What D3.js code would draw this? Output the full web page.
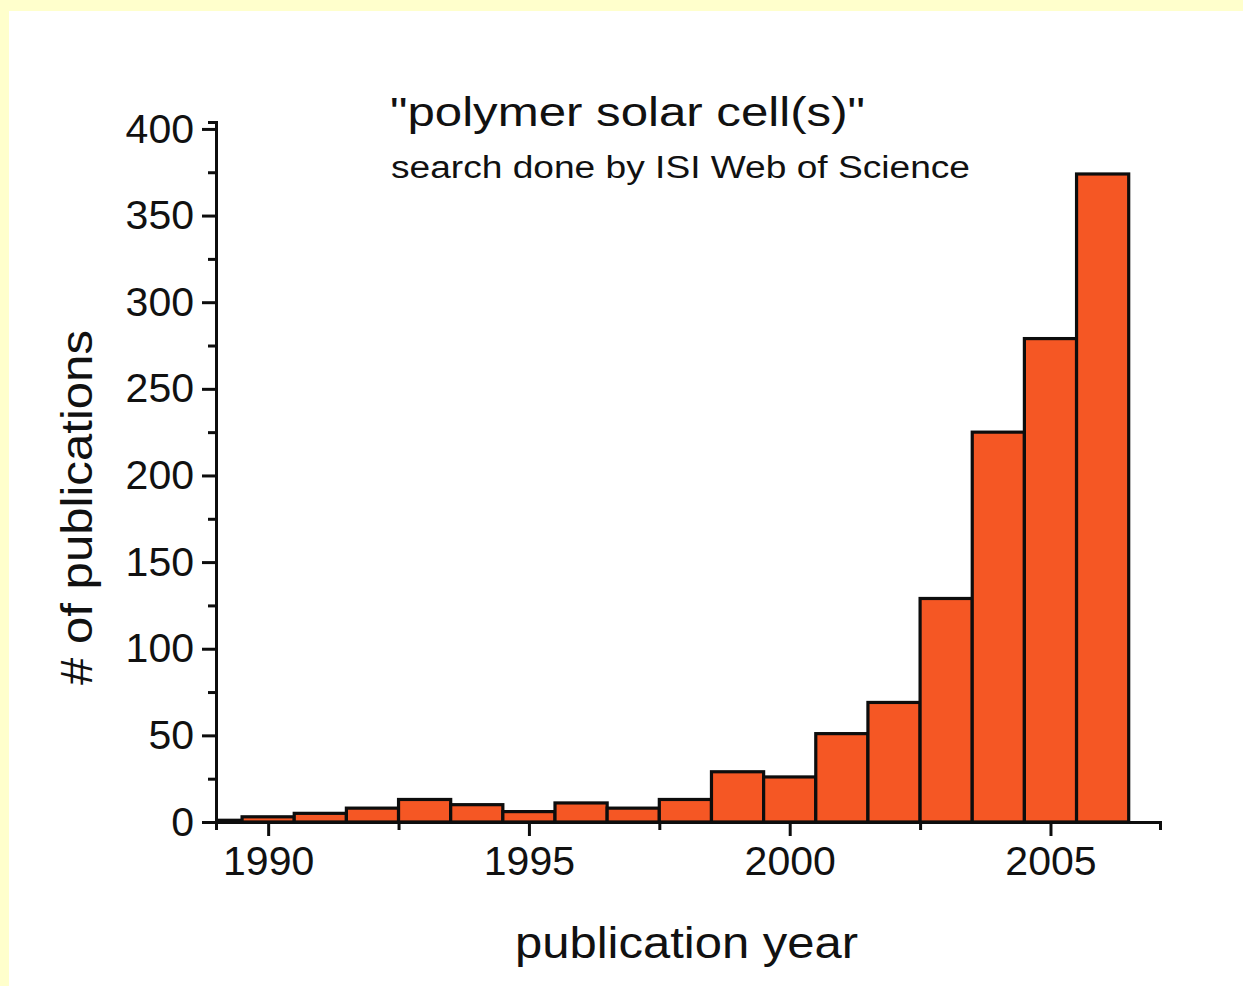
<!DOCTYPE html>
<html>
<head>
<meta charset="utf-8">
<script src="https://cdn.jsdelivr.net/npm/d3@7"></script>
<style>
  html, body { margin: 0; padding: 0; background: #ffffcc; }
  #chart { width: 1243px; height: 986px; }
  text { font-family: "Liberation Sans", Arial, sans-serif; fill: #111; }
</style>
</head>
<body>
<div id="chart"></div>
<script>
// publications per year, "polymer solar cell(s)" (ISI Web of Science)
const years  = [1989, 1990, 1991, 1992, 1993, 1994, 1995, 1996, 1997, 1998, 1999, 2000, 2001, 2002, 2003, 2004, 2005, 2006];
const counts = [1, 3, 5, 8, 13, 10, 6, 11, 8, 13, 29, 26, 51, 69, 129, 225, 279, 374];
const xTicks = [1990, 1995, 2000, 2005];
const xMinor = [1992.5, 1997.5, 2002.5];
const yTicks = [0, 50, 100, 150, 200, 250, 300, 350, 400];
const yMinor = [25, 75, 125, 175, 225, 275, 325, 375];

const W = 1243, H = 986;
const data = years.map((y, i) => ({ year: y, n: counts[i] }));

const svg = d3.select("#chart").append("svg")
  .attr("width", W).attr("height", H);

// white panel over the yellow page
svg.append("rect").attr("x", 9).attr("y", 11)
  .attr("width", W - 9).attr("height", H - 11).attr("fill", "#fff");

const x = d3.scaleLinear().domain([1989, 2007.1]).range([216, 1160]);
const y = d3.scaleLinear().domain([0, 404]).range([822, 122]);

svg.append("clipPath").attr("id", "plot")
  .append("rect").attr("x", x(1989)).attr("y", 0)
  .attr("width", x(2007.1) - x(1989)).attr("height", H);

// bars
svg.append("g").attr("clip-path", "url(#plot)")
  .selectAll("rect").data(data).join("rect")
  .attr("x", d => x(d.year - 0.5))
  .attr("y", d => y(d.n))
  .attr("width", d => x(d.year + 0.5) - x(d.year - 0.5))
  .attr("height", d => y(0) - y(d.n))
  .attr("fill", "#f55724")
  .attr("stroke", "#0d0d0d")
  .attr("stroke-width", 3.2);

// axes
const styleAxis = g => {
  g.select(".domain").attr("stroke", "#0d0d0d").attr("stroke-width", 3);
  g.selectAll(".tick line").attr("stroke", "#0d0d0d").attr("stroke-width", 3);
  g.selectAll(".tick text").attr("font-family", "Liberation Sans, Arial, sans-serif")
    .attr("font-size", 41).attr("fill", "#111");
};

// minor ticks first
svg.append("g").attr("transform", `translate(0,${y(0)})`)
  .call(d3.axisBottom(x).tickValues(xMinor).tickSize(8).tickFormat(""))
  .call(styleAxis);
svg.append("g").attr("transform", `translate(${x(1989)},0)`)
  .call(d3.axisLeft(y).tickValues(yMinor).tickSize(8).tickFormat(""))
  .call(styleAxis);

svg.append("g").attr("transform", `translate(0,${y(0)})`)
  .call(d3.axisBottom(x).tickValues(xTicks).tickSize(14).tickSizeOuter(0)
    .tickPadding(10).tickFormat(d3.format("d")))
  .call(styleAxis);
svg.append("g").attr("transform", `translate(${x(1989)},0)`)
  .call(d3.axisLeft(y).tickValues(yTicks).tickSize(14).tickSizeOuter(0)
    .tickPadding(8).tickFormat(d3.format("d")))
  .call(styleAxis);

// titles (glyphs stretched a little, the original font is wider)
const wide = "spacingAndGlyphs";
svg.append("text").attr("x", 390).attr("y", 126)
  .attr("font-size", 41).attr("textLength", 475).attr("lengthAdjust", wide)
  .text("\"polymer solar cell(s)\"");
svg.append("text").attr("x", 391).attr("y", 178)
  .attr("font-size", 31).attr("textLength", 579).attr("lengthAdjust", wide)
  .text("search done by ISI Web of Science");

svg.append("text").attr("x", 515).attr("y", 958)
  .attr("font-size", 44).attr("textLength", 343).attr("lengthAdjust", wide)
  .text("publication year");
svg.append("text")
  .attr("transform", `translate(92,685) rotate(-90)`)
  .attr("font-size", 45).attr("textLength", 355).attr("lengthAdjust", wide)
  .text("# of publications");
</script>
</body>
</html>
